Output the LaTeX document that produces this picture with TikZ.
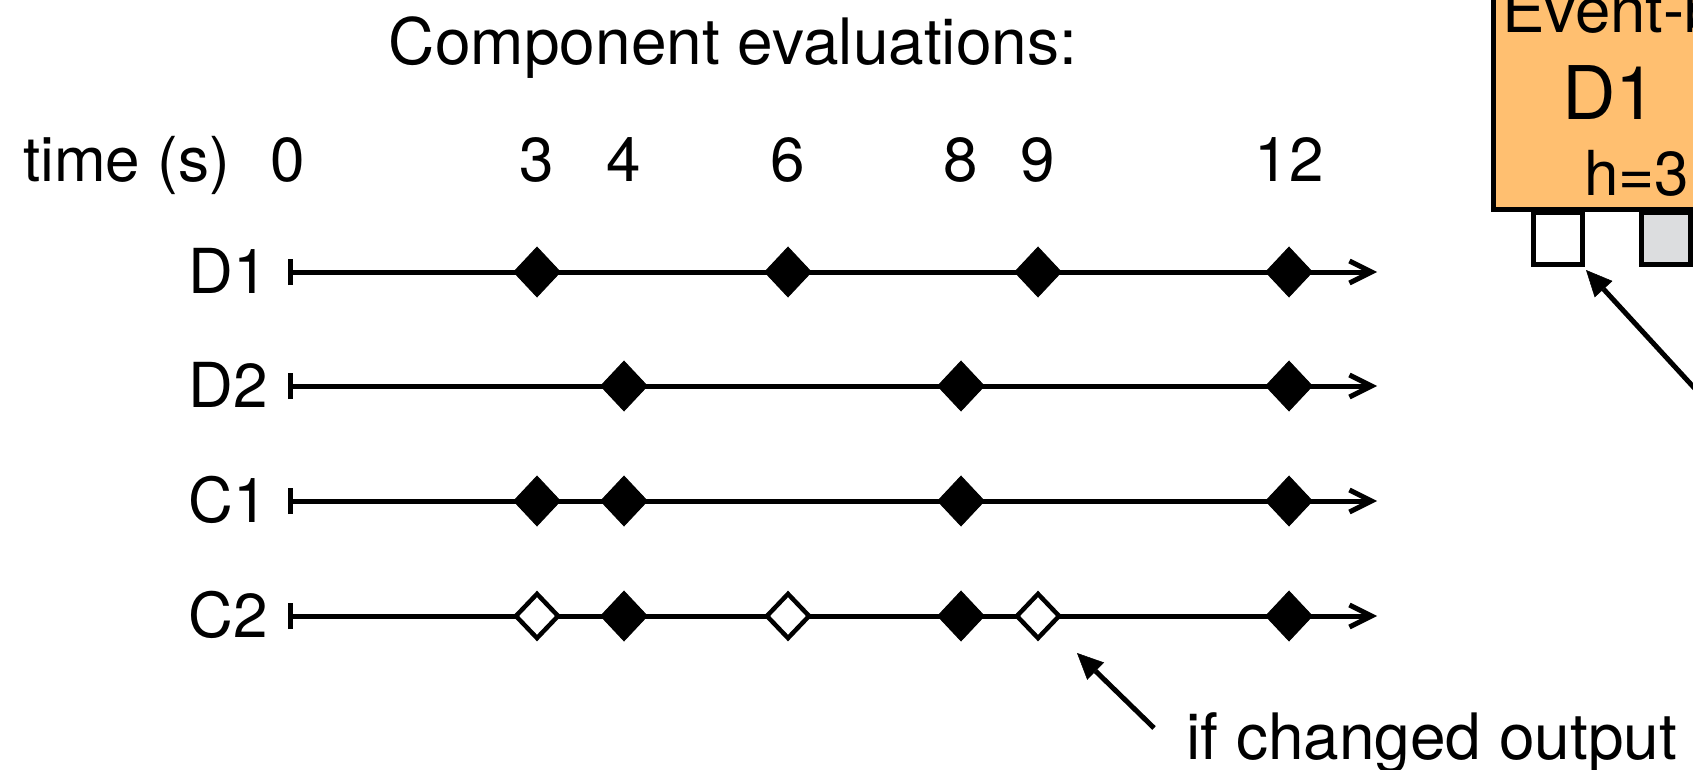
\documentclass[tikz,border=0pt]{standalone}
\usepackage{fontspec}
\setmainfont{TeX Gyre Heros}
\usetikzlibrary{arrows.meta,shapes.geometric}
\definecolor{boxorange}{HTML}{FFBF70}
\definecolor{portgray}{HTML}{DCDDDF}
\begin{document}
\begin{tikzpicture}[x=1pt,y=-1pt,
  lbl/.style={inner sep=0pt, font=\fontsize{62}{70}\selectfont},
  timeline/.style={line width=5pt, {Bar[width=26pt]}-{Straight Barb[length=22pt,width=22pt]}},
  fd/.style={diamond, fill=black, draw=black, line width=1pt, inner sep=0pt, minimum width=47pt, minimum height=50pt},
  hd/.style={diamond, fill=white, draw=black, line width=4.5pt, inner sep=0pt, minimum width=44pt, minimum height=46pt},
  ptr/.style={line width=5pt, -{Triangle[length=26pt,width=24pt,line width=0.5pt]}},
  port/.style={draw=black, line width=5pt, inner sep=0pt, minimum width=49pt, minimum height=52.5pt}
]
\useasboundingbox (0,0) rectangle (1693,770);
\clip (0,0) rectangle (1693,770);
\fill[white] (0,0) rectangle (1693,770);

% title and axis labels
\node[inner sep=0pt, font=\fontsize{64}{70}\selectfont, anchor=base] (title) at (733,65) {Component evaluations:};
\node[lbl, anchor=base east] (tlab) at (230,182) {time (s)};
\foreach \t/\x in {0/288,3/537,4/624,6/788,8/961,9/1038,12/1289}
  \node[lbl, anchor=base] (t\t) at (\x,182) {\t};

% timelines
\foreach \name/\y in {D1/272,D2/386,C1/501,C2/616} {
  \node[lbl, anchor=base east] (lab\name) at (268,\y+21) {\name};
  \coordinate (\name s) at (288,\y);
  \coordinate (\name e) at (1377,\y);
  \draw[timeline] (\name s) -- (\name e);
}

% evaluations
\foreach \t/\x in {3/537,6/788,9/1038,12/1289}
  \node[fd] (D1d\t) at (\x,272) {};
\foreach \t/\x in {4/624,8/961,12/1289}
  \node[fd] (D2d\t) at (\x,386) {};
\foreach \t/\x in {3/537,4/624,8/961,12/1289}
  \node[fd] (C1d\t) at (\x,501) {};
\foreach \t/\x in {4/624,8/961,12/1289}
  \node[fd] (C2d\t) at (\x,616) {};
\foreach \t/\x in {3/537,6/788,9/1038}
  \node[hd] (C2h\t) at (\x,616) {};

% note
\node[inner sep=0pt, font=\fontsize{64}{70}\selectfont, anchor=base west] (note) at (1186,759) {if changed output};
\coordinate (nt) at (1154,728);
\coordinate (nh) at (1077,653);
\draw[ptr] (nt) -- (nh);

% component box (cut off at the edge)
\node[draw=black, line width=5.5pt, fill=boxorange, inner sep=0pt, minimum width=320pt, minimum height=300pt, anchor=south west] (ev) at (1490.75,212.25) {};
\node[inner sep=0pt, font=\fontsize{63.5}{70}\selectfont, anchor=base west] (evt) at (1502,33) {Event-based};
\node[inner sep=0pt, font=\fontsize{74}{80}\selectfont, anchor=base west] (evn) at (1562,120) {D1};
\node[lbl, anchor=base west] (evh) at (1584,195) {h=3};

% ports
\node[port, fill=white] (p1) at (1558,238.25) {};
\node[port, fill=portgray] (p2) at (1665.5,238.25) {};
\coordinate (pa) at (1799,502);
\coordinate (ph) at (1586,270);
\draw[ptr] (pa) -- (ph);
\end{tikzpicture}
\end{document}
